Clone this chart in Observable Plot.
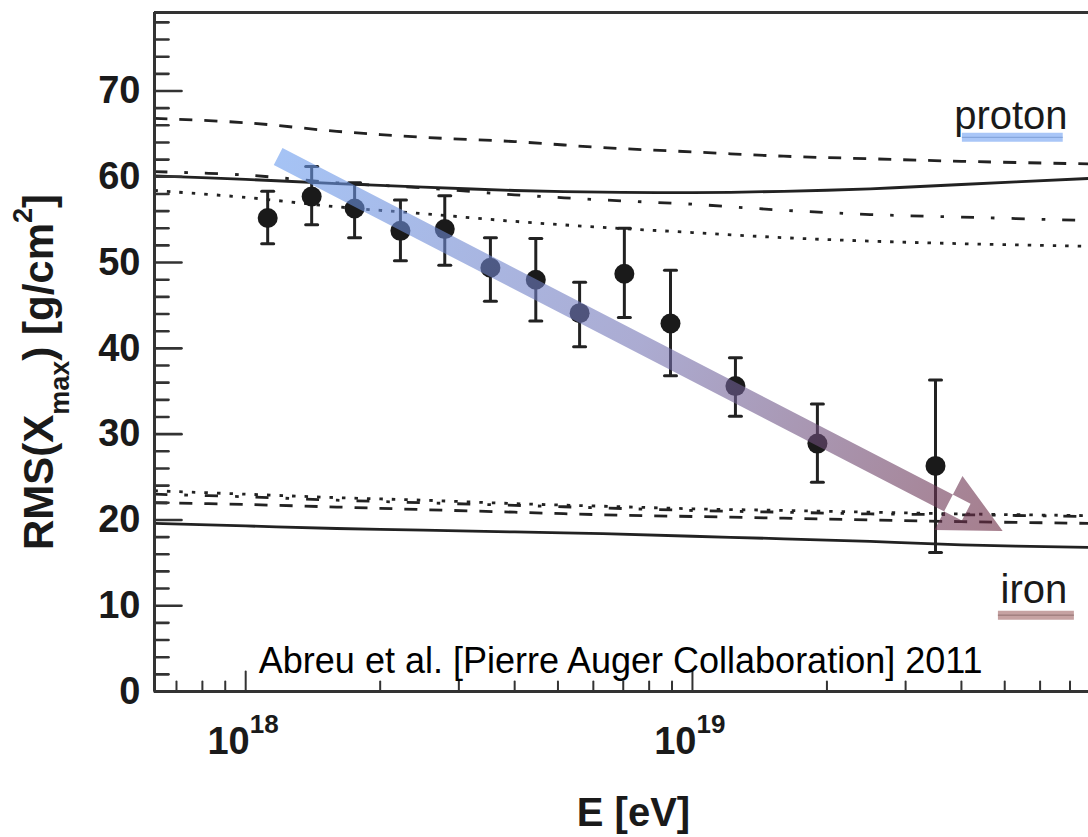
<!DOCTYPE html>
<html>
<head>
<meta charset="utf-8">
<script src="https://cdn.jsdelivr.net/npm/d3@7"></script>
<script src="https://cdn.jsdelivr.net/npm/@observablehq/plot@0.6"></script>
<style>
  body { margin: 0; background: #fff; }
</style>
</head>
<body>
<div id="chart"></div>
<script>
// ---- Data ----
// Auger RMS(Xmax) measurements
const pointE   = [1.12e18, 1.405e18, 1.753e18, 2.22e18, 2.79e18, 3.53e18, 4.46e18, 5.59e18, 7.04e18, 8.93e18, 1.248e19, 1.904e19, 3.50e19];
const pointRMS = [55.2, 57.7, 56.3, 53.7, 53.9, 49.4, 48.0, 44.1, 48.7, 42.9, 35.6, 28.9, 26.3];
const pointHi  = [58.3, 61.2, 59.3, 57.3, 57.8, 52.9, 52.8, 47.7, 54.0, 49.1, 38.9, 33.5, 36.3];
const pointLo  = [52.2, 54.4, 52.9, 50.2, 49.7, 45.5, 43.2, 40.2, 43.6, 36.8, 32.1, 24.4, 16.2];

// Model predictions (common energy grid)
const modelE = [6.25e17, 1.0e18, 1.6e18, 2.5e18, 4.0e18, 6.3e18, 1.0e19, 1.6e19, 2.5e19, 4.0e19, 7.7e19];
const protonSolid   = [60.1, 59.7, 59.2, 58.8, 58.4, 58.2, 58.15, 58.3, 58.6, 59.1, 59.8];
const protonDashed  = [66.8, 66.3, 65.3, 64.6, 64.1, 63.4, 62.9, 62.4, 62.1, 61.8, 61.5];
const protonDashDot = [60.6, 60.2, 59.3, 58.7, 57.9, 57.3, 56.8, 56.1, 55.6, 55.3, 54.9];
const protonDotted  = [58.4, 57.6, 56.5, 55.7, 54.8, 54.1, 53.5, 52.9, 52.5, 52.2, 51.9];
const ironSolid     = [19.6, 19.3, 19.0, 18.8, 18.6, 18.4, 18.1, 17.8, 17.5, 17.1, 16.8];
const ironDashed    = [22.0, 21.8, 21.5, 21.2, 20.9, 20.6, 20.4, 20.2, 20.0, 19.8, 19.6];
const ironDashDot   = [23.0, 22.7, 22.3, 22.0, 21.7, 21.4, 21.1, 20.9, 20.7, 20.6, 20.4];
const ironDotted    = [23.4, 23.0, 22.6, 22.3, 21.9, 21.6, 21.3, 21.1, 20.9, 20.7, 20.5];

// Axes
const xDomain = [6.25e17, 7.7e19];
const yDomain = [0, 79.15];
const xMajor = [1e18, 1e19];
const xExponents = ["18", "19"];
const xMinor = [7e17, 8e17, 9e17, 2e18, 3e18, 4e18, 5e18, 6e18, 7e18, 8e18, 9e18, 2e19, 3e19, 4e19, 5e19, 6e19, 7e19];
const yMajor = [0, 10, 20, 30, 40, 50, 60, 70];
const yMinor = d3.range(2, 80, 2).filter(v => v % 10 !== 0);

// Annotations
const arrowE   = [1.185e18, 4.96e19];
const arrowRMS = [62.3, 18.65];
const protonLabel = {text: "proton", E: 5.16e19, rms: 65.6};
const protonUnderlineE = [4.02e19, 6.76e19];
const protonUnderlineRMS = 64.6;
const ironLabel = {text: "iron", E: 5.81e19, rms: 10.26};
const ironUnderlineE = [4.84e19, 7.16e19];
const ironUnderlineRMS = 8.9;
const caption = {text: "Abreu et al. [Pierre Auger Collaboration] 2011", E: 1.07e18, rms: 2.1};

// ---- Build tables ----
const points = pointE.map((E, i) => ({E, rms: pointRMS[i], hi: pointHi[i], lo: pointLo[i]}));
const curve = vals => modelE.map((E, i) => ({E, v: vals[i]}));

const lineShape = {draw(context, l) { context.moveTo(0, 0); context.lineTo(0, -l); }};
const ink = "#222";
const font = "'Liberation Sans', Arial, Helvetica, sans-serif";

function lineMark(vals, dash) {
  return Plot.line(curve(vals), {x: "E", y: "v", stroke: ink, strokeWidth: 2.8,
    strokeDasharray: dash, strokeLinecap: "butt", curve: "catmull-rom"});
}

// Arrow drawn through the scales (custom render of a link)
const arrowMark = Plot.link([0], {
  x1: () => arrowE[0], y1: () => arrowRMS[0], x2: () => arrowE[1], y2: () => arrowRMS[1],
  render(index, scales, values) {
    const sx = values.x1[0], sy = values.y1[0], tx = values.x2[0], ty = values.y2[0];
    const dx = tx - sx, dy = ty - sy, L = Math.hypot(dx, dy);
    const ux = dx / L, uy = dy / L, nx = -uy, ny = ux;
    const w = 9.5, h = 61, H = 30.5, o = 20;
    const bx = tx - ux * h, by = ty - uy * h;
    const ex = bx + ux * o, ey = by + uy * o;
    const p = (x, y) => `${x.toFixed(2)},${y.toFixed(2)}`;
    const d = `M${p(sx + nx * w, sy + ny * w)}L${p(ex + nx * w, ey + ny * w)}L${p(ex - nx * w, ey - ny * w)}L${p(sx - nx * w, sy - ny * w)}Z` +
              `M${p(bx + nx * H, by + ny * H)}L${p(tx, ty)}L${p(bx - nx * H, by - ny * H)}Z`;
    const g = d3.create("svg:g");
    const grad = g.append("defs").append("linearGradient")
      .attr("id", "arrowGrad").attr("gradientUnits", "userSpaceOnUse")
      .attr("x1", sx).attr("y1", sy).attr("x2", tx).attr("y2", ty);
    grad.append("stop").attr("offset", 0).attr("stop-color", "#699bee");
    grad.append("stop").attr("offset", 0.5).attr("stop-color", "#7474b4");
    grad.append("stop").attr("offset", 1).attr("stop-color", "#6a2840");
    g.append("path").attr("d", d).attr("fill", "url(#arrowGrad)")
      .attr("fill-rule", "evenodd").attr("opacity", 0.6);
    return g.node();
  }
});

const chart = Plot.plot({
  width: 1088,
  height: 837,
  marginLeft: 154,
  marginRight: 0,
  marginTop: 12,
  marginBottom: 146,
  style: {fontFamily: font, background: "#fff", color: ink},
  x: {type: "log", domain: xDomain, axis: null},
  y: {domain: yDomain, axis: null},
  marks: [
    // model curves
    lineMark(protonDashed, "13,12"),
    lineMark(protonSolid, null),
    lineMark(protonDashDot, "13,17,3.5,17"),
    lineMark(protonDotted, "3.5,9"),
    lineMark(ironDashed, "13,12"),
    lineMark(ironSolid, null),
    lineMark(ironDashDot, "13,17,3.5,17"),
    lineMark(ironDotted, "3.5,9"),
    // error bars and points
    Plot.ruleX(points, {x: "E", y1: "lo", y2: "hi", stroke: ink, strokeWidth: 3}),
    Plot.vector(points, {x: "E", y: "hi", length: 12, rotate: 90, anchor: "middle", shape: lineShape, stroke: ink, strokeWidth: 3}),
    Plot.vector(points, {x: "E", y: "lo", length: 12, rotate: 90, anchor: "middle", shape: lineShape, stroke: ink, strokeWidth: 3}),
    Plot.dot(points, {x: "E", y: "rms", r: 10, fill: "#1a1a1a", stroke: null}),
    // arrow
    arrowMark,
    // frame (left, bottom, top)
    Plot.ruleX([xDomain[0]], {stroke: "#333", strokeWidth: 3}),
    Plot.ruleY([yDomain[0]], {stroke: "#333", strokeWidth: 3}),
    Plot.ruleY([yDomain[1]], {stroke: "#333", strokeWidth: 3}),
    // inward ticks
    Plot.vector(yMajor, {x: () => xDomain[0], y: d => d, length: 27, rotate: 90, anchor: "start", shape: lineShape, stroke: "#333", strokeWidth: 2.6}),
    Plot.vector(yMinor, {x: () => xDomain[0], y: d => d, length: 14, rotate: 90, anchor: "start", shape: lineShape, stroke: "#333", strokeWidth: 2.6}),
    Plot.vector(xMajor, {x: d => d, y: () => 0, length: 20, rotate: 0, anchor: "start", shape: lineShape, stroke: "#333", strokeWidth: 2}),
    Plot.vector(xMinor, {x: d => d, y: () => 0, length: 10, rotate: 0, anchor: "start", shape: lineShape, stroke: "#333", strokeWidth: 2}),
    // y tick labels
    Plot.text(yMajor, {x: () => xDomain[0], y: d => d, text: d => String(d), textAnchor: "end", dx: -14, dy: 0,
      fontSize: 38, fontWeight: "bold", fill: "#1a1a1a"}),
    // x tick labels 10^n
    Plot.text(xMajor, {x: d => d, y: () => 0, text: () => "10", textAnchor: "end", dx: 4, dy: 62, lineAnchor: "bottom",
      fontSize: 38, fontWeight: "bold", fill: "#1a1a1a"}),
    Plot.text(xMajor, {x: d => d, y: () => 0, text: (d, i) => xExponents[i], textAnchor: "start", dx: 4, dy: 41, lineAnchor: "bottom",
      fontSize: 26, fontWeight: "bold", fill: "#1a1a1a"}),
    // x axis label
    Plot.text(["E [eV]"], {frameAnchor: "bottom", text: d => d, dx: 12, dy: 134, lineAnchor: "bottom",
      fontSize: 40, fontWeight: "bold", fill: "#1a1a1a"}),
    // proton / iron labels with underlines
    Plot.ruleY([protonUnderlineRMS], {x1: protonUnderlineE[0], x2: protonUnderlineE[1], stroke: "#a9c6f7", strokeWidth: 9}),
    Plot.ruleY([protonUnderlineRMS], {x1: protonUnderlineE[0], x2: protonUnderlineE[1], stroke: "#7f9fd6", strokeWidth: 1}),
    Plot.ruleY([ironUnderlineRMS], {x1: ironUnderlineE[0], x2: ironUnderlineE[1], stroke: "#c6a2a2", strokeWidth: 9}),
    Plot.ruleY([ironUnderlineRMS], {x1: ironUnderlineE[0], x2: ironUnderlineE[1], stroke: "#8f6f6f", strokeWidth: 1}),
    Plot.text([protonLabel], {x: "E", y: "rms", text: "text", lineAnchor: "bottom", fontSize: 40, fill: "#1a1a1a"}),
    Plot.text([ironLabel], {x: "E", y: "rms", text: "text", lineAnchor: "bottom", fontSize: 40, fill: "#1a1a1a"}),
    // caption
    Plot.text([caption], {x: "E", y: "rms", text: "text", textAnchor: "start", lineAnchor: "bottom", fontSize: 36, fill: "#000"})
  ]
});

document.getElementById("chart").appendChild(chart);

// y axis title with subscript / superscript
const ylab = d3.select(chart).append("text")
  .attr("transform", "translate(53,372) rotate(-90)")
  .attr("text-anchor", "middle")
  .attr("font-family", font)
  .attr("font-weight", "bold")
  .attr("font-size", 42)
  .attr("fill", "#1a1a1a");
ylab.append("tspan").text("RMS(X");
ylab.append("tspan").attr("dy", 16).attr("font-size", 27).text("max");
ylab.append("tspan").attr("dy", -16).text(") [g/cm");
ylab.append("tspan").attr("dy", -21).attr("font-size", 27).text("2");
ylab.append("tspan").attr("dy", 21).text("]");
</script>
</body>
</html>
